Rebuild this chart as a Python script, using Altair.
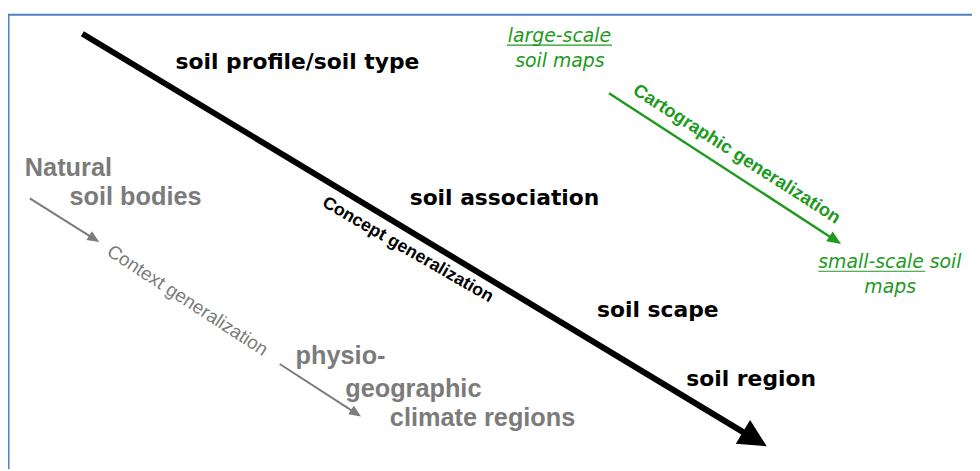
import altair as alt
import pandas as pd
import numpy as np

# ---- diagram content (image pixel coordinates) ----
# scale levels along the main "concept generalization" arrow
level_labels = ["soil profile/soil type", "soil association", "soil scape", "soil region"]
level_x = [177, 413, 602, 692]
level_y = [68, 205, 318, 387]

# grey: natural soil bodies -> physio-geographic climate regions
grey_labels = ["Natural", "soil bodies", "physio-", "geographic", "climate regions"]
grey_x = [25, 70, 298, 348, 393]
grey_y = [175, 205, 365, 398, 428]

# green: map scales
green_labels = ["large-scale", "soil maps", "small-scale soil", "maps"]
green_x = [564, 564.5, 825, 897.5]
green_y = [40, 66, 268, 293]
green_align = ["center", "center", "left", "center"]
underline_x0 = [511, 825]
underline_x1 = [617, 933]
underline_y = [43.5, 271.5]

# arrows: start and tip
black_arrow = dict(x0=[83], y0=[32], x1=[773], y1=[448])
grey_arrows = dict(x0=[30, 282], y0=[198, 365], x1=[100, 364], y1=[242, 418])
green_arrow = dict(x0=[614], y0=[92], x1=[848], y1=[244])

# rotated process labels
proc_labels = ["Concept generalization", "Context generalization", "Cartographic  generalization"]
proc_x = [411, 189, 743]
proc_y = [250, 301, 153]

# frame
frame_x0 = [8, 8.5]
frame_y0 = [13, 13]
frame_x1 = [980, 8.5]
frame_y1 = [13, 471]

BLUE = "#4f81bd"
GREY = "#7b7b7b"
GREEN = "#1e9a1e"

xs = alt.Scale(domain=[8, 980], nice=False, zero=False)
ys = alt.Scale(domain=[8, 471], nice=False, zero=False, reverse=True)


def X(f="x"):
    return alt.X(f"{f}:Q", scale=xs, axis=None)


def Y(f="y"):
    return alt.Y(f"{f}:Q", scale=ys, axis=None)


def arrow_layers(d, color, shaft, head_len, head_path):
    x0 = np.array(d["x0"], float); y0 = np.array(d["y0"], float)
    x1 = np.array(d["x1"], float); y1 = np.array(d["y1"], float)
    ang = np.degrees(np.arctan2(y1 - y0, x1 - x0))
    L = np.hypot(x1 - x0, y1 - y0)
    ux = (x1 - x0) / L; uy = (y1 - y0) / L
    cx = x1 - ux * head_len / 2; cy = y1 - uy * head_len / 2
    df = pd.DataFrame({"x": x0, "y": y0, "x2": cx, "y2": cy, "hx": cx, "hy": cy, "ang": ang})
    line = alt.Chart(df).mark_rule(color=color, strokeWidth=shaft, strokeCap="butt").encode(
        x=X(), y=Y(), x2="x2:Q", y2="y2:Q")
    head = alt.Chart(df).mark_point(shape=head_path, filled=True, color=color, opacity=1,
                                    size=head_len ** 2, strokeWidth=0).encode(
        x=X("hx"), y=Y("hy"), angle=alt.Angle("ang:Q", scale=None))
    return [line, head]


frame_df = pd.DataFrame({"x": frame_x0, "y": frame_y0, "x2": frame_x1, "y2": frame_y1})
frame = alt.Chart(frame_df).mark_rule(color=BLUE, strokeWidth=2).encode(
    x=X(), y=Y(), x2="x2:Q", y2="y2:Q")

layers = [frame]
layers += arrow_layers(black_arrow, "black", 6, 28, "M-1,-1L1,0L-1,1Z")
layers += arrow_layers(grey_arrows, GREY, 2, 12, "M-1,-0.85L1,0L-1,0.85Z")
layers += arrow_layers(green_arrow, GREEN, 2.5, 14, "M-1,-0.85L1,0L-1,0.85Z")

lvl = alt.Chart(pd.DataFrame({"t": level_labels, "x": level_x, "y": level_y})).mark_text(
    font="DejaVu Sans", fontWeight="bold", fontSize=22, align="left", baseline="alphabetic",
    color="black").encode(x=X(), y=Y(), text="t:N")
layers.append(lvl)

grey = alt.Chart(pd.DataFrame({"t": grey_labels, "x": grey_x, "y": grey_y})).mark_text(
    font="Liberation Sans", fontWeight="bold", fontSize=25.5, align="left", baseline="alphabetic",
    color=GREY).encode(x=X(), y=Y(), text="t:N")
layers.append(grey)

gdf = pd.DataFrame({"t": green_labels, "x": green_x, "y": green_y, "a": green_align})
for a in ["center", "left"]:
    layers.append(alt.Chart(gdf[gdf.a == a]).mark_text(
        font="DejaVu Sans", fontStyle="italic", fontSize=19, align=a, baseline="alphabetic",
        color=GREEN).encode(x=X(), y=Y(), text="t:N"))

ul = alt.Chart(pd.DataFrame({"x": underline_x0, "x2": underline_x1, "y": underline_y})).mark_rule(
    color=GREEN, strokeWidth=1.2).encode(x=X(), x2="x2:Q", y=Y())
layers.append(ul)

proc_style = [
    dict(font="Liberation Sans", fontWeight="bold", fontSize=17.8, color="black", angle=30),
    dict(font="Liberation Sans", fontWeight="normal", fontSize=19, color=GREY, angle=33),
    dict(font="Liberation Sans", fontWeight="bold", fontSize=18.5, color=GREEN, angle=32.7),
]
for i, st in enumerate(proc_style):
    d = pd.DataFrame({"t": [proc_labels[i]], "x": [proc_x[i]], "y": [proc_y[i]]})
    layers.append(alt.Chart(d).mark_text(align="center", baseline="middle", **st).encode(
        x=X(), y=Y(), text="t:N"))

chart = alt.layer(*layers).properties(
    width=972, height=463, padding=0, autosize=alt.AutoSizeParams(type="none"),
    background="white",
).configure_view(stroke=None)

chart.save("out.html", embed_options={"renderer": "svg", "actions": False})
